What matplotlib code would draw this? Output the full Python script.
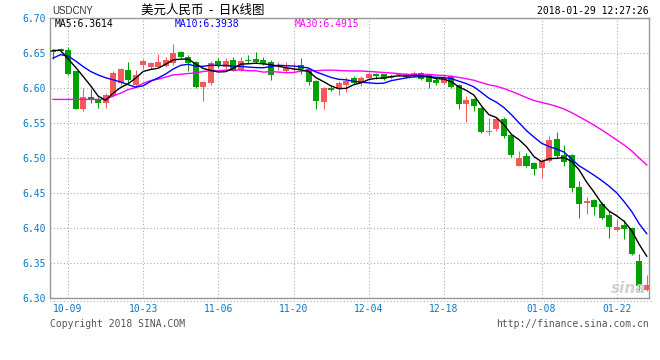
import numpy as np
import matplotlib
matplotlib.use('Agg')
import matplotlib.pyplot as plt
from matplotlib.lines import Line2D

# ---- data (index 0 = 10-09) ----
idx = np.arange(-2, 78)
opens = [6.655, 6.656, 6.655, 6.624, 6.570, 6.588, 6.584, 6.579, 6.589, 6.607,
         6.626, 6.605, 6.633, 6.631, 6.631, 6.632, 6.636, 6.652, 6.645, 6.637,
         6.602, 6.608, 6.639, 6.631, 6.640, 6.626, 6.641, 6.642, 6.640, 6.638,
         6.627, 6.624, 6.627, 6.633, 6.627, 6.611, 6.581, 6.601, 6.599, 6.605,
         6.615, 6.607, 6.614, 6.621, 6.620, 6.614, 6.619, 6.621, 6.618, 6.622,
         6.620, 6.612, 6.608, 6.617, 6.605, 6.578, 6.585, 6.572, 6.537, 6.542,
         6.556, 6.533, 6.489, 6.503, 6.493, 6.486, 6.496, 6.528, 6.505, 6.505,
         6.459, 6.436, 6.440, 6.434, 6.418, 6.397, 6.405, 6.400, 6.353, 6.311]
highs = [6.656, 6.657, 6.659, 6.625, 6.600, 6.599, 6.588, 6.593, 6.625, 6.629,
         6.637, 6.626, 6.642, 6.638, 6.649, 6.645, 6.663, 6.653, 6.648, 6.639,
         6.610, 6.639, 6.643, 6.643, 6.644, 6.645, 6.648, 6.652, 6.644, 6.640,
         6.638, 6.638, 6.638, 6.643, 6.628, 6.612, 6.602, 6.605, 6.611, 6.616,
         6.618, 6.617, 6.623, 6.622, 6.621, 6.621, 6.622, 6.622, 6.624, 6.623,
         6.621, 6.614, 6.619, 6.619, 6.606, 6.589, 6.586, 6.573, 6.557, 6.559,
         6.559, 6.534, 6.510, 6.508, 6.494, 6.499, 6.532, 6.537, 6.519, 6.506,
         6.467, 6.444, 6.441, 6.438, 6.424, 6.413, 6.411, 6.402, 6.363, 6.333]
lows = [6.642, 6.652, 6.619, 6.571, 6.568, 6.579, 6.572, 6.572, 6.588, 6.605,
        6.607, 6.602, 6.627, 6.627, 6.630, 6.631, 6.633, 6.643, 6.624, 6.601,
        6.582, 6.605, 6.629, 6.627, 6.624, 6.625, 6.636, 6.636, 6.633, 6.612,
        6.626, 6.623, 6.625, 6.621, 6.605, 6.570, 6.571, 6.596, 6.590, 6.594,
        6.606, 6.603, 6.613, 6.613, 6.612, 6.613, 6.617, 6.615, 6.616, 6.612,
        6.601, 6.605, 6.606, 6.600, 6.571, 6.552, 6.567, 6.536, 6.533, 6.539,
        6.529, 6.501, 6.489, 6.488, 6.476, 6.472, 6.495, 6.500, 6.489, 6.452,
        6.415, 6.420, 6.418, 6.413, 6.386, 6.396, 6.385, 6.362, 6.312, 6.310]
closes = [6.652, 6.653, 6.621, 6.571, 6.588, 6.585, 6.579, 6.591, 6.622, 6.628,
          6.612, 6.619, 6.639, 6.636, 6.637, 6.641, 6.650, 6.644, 6.636, 6.602,
          6.609, 6.636, 6.633, 6.639, 6.625, 6.639, 6.639, 6.637, 6.634, 6.619,
          6.628, 6.629, 6.628, 6.627, 6.609, 6.582, 6.601, 6.597, 6.608, 6.611,
          6.608, 6.615, 6.620, 6.617, 6.613, 6.618, 6.621, 6.617, 6.622, 6.613,
          6.609, 6.607, 6.615, 6.602, 6.577, 6.583, 6.574, 6.538, 6.539, 6.556,
          6.532, 6.505, 6.500, 6.489, 6.485, 6.496, 6.526, 6.503, 6.494, 6.458,
          6.435, 6.439, 6.430, 6.415, 6.402, 6.402, 6.399, 6.363, 6.317, 6.318]

ma5 = [6.6540, 6.6540, 6.6420, 6.6300, 6.6170, 6.6036, 6.5888, 6.5828, 6.5930, 6.6010,
       6.6064, 6.6144, 6.6240, 6.6268, 6.6286, 6.6344, 6.6406, 6.6416, 6.6416, 6.6346,
       6.6282, 6.6254, 6.6232, 6.6238, 6.6284, 6.6344, 6.6350, 6.6358, 6.6348, 6.6336,
       6.6314, 6.6294, 6.6276, 6.6262, 6.6242, 6.6150, 6.6094, 6.6032, 6.5994, 6.5998,
       6.6050, 6.6078, 6.6124, 6.6142, 6.6146, 6.6166, 6.6178, 6.6172, 6.6182, 6.6182,
       6.6164, 6.6136, 6.6132, 6.6092, 6.6020, 6.5968, 6.5902, 6.5748, 6.5622, 6.5580,
       6.5478, 6.5340, 6.5264, 6.5164, 6.5022, 6.4950, 6.4992, 6.4998, 6.5008, 6.4954,
       6.4832, 6.4658, 6.4512, 6.4354, 6.4242, 6.4176, 6.4096, 6.3962, 6.3766, 6.3598]
ma10 = [6.6430, 6.6480, 6.6460, 6.6390, 6.6310, 6.6240, 6.6190, 6.6150, 6.6120, 6.6090,
        6.6050, 6.6016, 6.6034, 6.6099, 6.6148, 6.6204, 6.6275, 6.6328, 6.6342, 6.6316,
        6.6313, 6.6330, 6.6324, 6.6327, 6.6315, 6.6313, 6.6302, 6.6295, 6.6293, 6.6310,
        6.6329, 6.6322, 6.6317, 6.6305, 6.6289, 6.6232, 6.6194, 6.6154, 6.6128, 6.6120,
        6.6100, 6.6086, 6.6078, 6.6068, 6.6072, 6.6108, 6.6128, 6.6148, 6.6162, 6.6164,
        6.6165, 6.6157, 6.6152, 6.6137, 6.6101, 6.6066, 6.6019, 6.5940, 6.5857, 6.5800,
        6.5723, 6.5621, 6.5506, 6.5393, 6.5301, 6.5214, 6.5166, 6.5131, 6.5086, 6.4988,
        6.4891, 6.4825, 6.4755, 6.4681, 6.4598, 6.4504, 6.4377, 6.4237, 6.4060, 6.3920]
ma30 = [6.5840, 6.5840, 6.5840, 6.5840, 6.5840, 6.5840, 6.5840, 6.5840, 6.5890, 6.5930,
        6.5980, 6.6010, 6.6070, 6.6110, 6.6130, 6.6160, 6.6190, 6.6200, 6.6210, 6.6220,
        6.6240, 6.6250, 6.6250, 6.6260, 6.6260, 6.6260, 6.6250, 6.6250, 6.6230, 6.6239,
        6.6231, 6.6223, 6.6225, 6.6244, 6.6251, 6.6250, 6.6257, 6.6259, 6.6254, 6.6249,
        6.6247, 6.6246, 6.6240, 6.6233, 6.6225, 6.6218, 6.6208, 6.6199, 6.6194, 6.6198,
        6.6198, 6.6188, 6.6182, 6.6170, 6.6154, 6.6135, 6.6114, 6.6081, 6.6049, 6.6028,
        6.5996, 6.5955, 6.5912, 6.5866, 6.5825, 6.5796, 6.5771, 6.5740, 6.5702, 6.5651,
        6.5593, 6.5534, 6.5471, 6.5404, 6.5333, 6.5261, 6.5187, 6.5103, 6.5001, 6.4903]

tick_idx = [0, 10, 20, 30, 40, 50, 63, 73]
tick_labels = ['10-09', '10-23', '11-06', '11-20', '12-04', '12-18', '01-08', '01-22']

# ---- figure ----
W, H = 660, 360
fig = plt.figure(figsize=(6.6, 3.6), dpi=100)
fig.patch.set_facecolor('white')
ax = fig.add_axes([50 / W, 62 / H, 599 / W, 279.7 / H])

RED = '#f55a5a'
GREEN = '#00a000'
BLUE_T = '#0a78c8'
mono = 'DejaVu Sans Mono'

o = np.array(opens); h = np.array(highs); l = np.array(lows); c = np.array(closes)
up = c >= o
cols = np.where(up, RED, GREEN)
ax.vlines(idx, l, h, colors=cols, linewidth=0.75, zorder=3)
body_bottom = np.minimum(o, c)
body_h = np.maximum(np.abs(c - o), 0.0008)
ax.bar(idx, body_h, bottom=body_bottom, width=0.8, color=cols, linewidth=0, zorder=4)

ax.plot(idx, ma30, color='#ff00ff', linewidth=1.0, zorder=5)
ax.plot(idx, ma10, color='#0000ff', linewidth=1.0, zorder=5)
ax.plot(idx, ma5, color='black', linewidth=1.0, zorder=6)

ax.set_xlim(-2.4, 77.3)
ax.set_ylim(6.30, 6.70)
yt = np.round(np.arange(6.30, 6.701, 0.05), 2)
ax.set_yticks(yt)
ax.set_yticklabels(['%.2f' % v for v in yt])
ax.set_xticks(tick_idx)
ax.set_xticklabels(tick_labels)
ax.tick_params(axis='both', length=0, labelsize=7, labelcolor=BLUE_T)
ax.tick_params(axis='y', pad=3)
ax.tick_params(axis='x', pad=4)
for lab in ax.get_xticklabels() + ax.get_yticklabels():
    lab.set_family(mono)
ax.grid(True, color='#aaaaaa', linestyle=(0, (1, 2)), linewidth=0.8)
ax.set_axisbelow(True)
for s in ax.spines.values():
    s.set_color('#999999')
    s.set_linewidth(1.0)

fig.add_artist(Line2D([50 / W, 651 / W], [1 - 300.5 / H, 1 - 300.5 / H],
                      color='#aaaaaa', linestyle=(0, (1, 2)), linewidth=0.8))

def ftext(x, y, s, **kw):
    fig.text(x / W, 1 - y / H, s, **kw)

ftext(52, 11, 'USDCNY', fontsize=7, color='#333333', va='center', ha='left',
      family='Liberation Sans')
ftext(141, 10.5, '美元人民币  -  日K线图', fontsize=9, color='black', va='center',
      ha='left', family=['Noto Sans CJK SC', 'DejaVu Sans'])
ftext(649, 11.5, '2018-01-29 12:27:26', fontsize=7, color='black', va='center',
      ha='right', family=mono)
ftext(55, 24, 'MA5:6.3614', fontsize=7, color='black', va='center', ha='left', family=mono)
ftext(175, 24, 'MA10:6.3938', fontsize=7, color='#0000ff', va='center', ha='left', family=mono)
ftext(295, 24, 'MA30:6.4915', fontsize=7, color='#ff00ff', va='center', ha='left', family=mono)
ftext(50, 324, 'Copyright 2018 SINA.COM', fontsize=7, color='#555555', va='center',
      ha='left', family=mono)
ftext(649, 324, 'http://finance.sina.com.cn', fontsize=7, color='#555555', va='center',
      ha='right', family=mono)
ftext(646, 296, 'sina', fontsize=11, color='#cccccc', va='bottom', ha='right',
      style='italic', weight='bold', family='DejaVu Sans', alpha=0.9, zorder=10)

fig.savefig('out.png', dpi=100, facecolor='white')
